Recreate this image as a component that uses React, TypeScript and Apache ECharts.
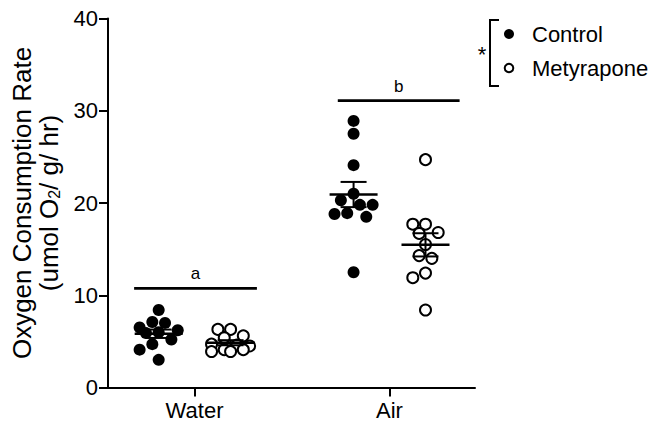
import React, { useEffect, useRef } from "react";
import * as echarts from "echarts";

const groups = ["Water", "Air"];
const seriesNames = ["Control", "Metyrapone"];
const waterControl = [8.4, 7.1, 7.0, 6.2, 6.5, 5.9, 6.0, 5.2, 4.7, 4.1, 3.0];
const waterMetyrapone = [6.3, 6.3, 5.4, 5.6, 4.6, 4.5, 4.7, 4.1, 3.9, 3.9, 4.1];
const airControl = [28.9, 27.5, 24.1, 21.0, 20.3, 19.8, 19.8, 18.9, 18.8, 18.5, 12.5];
const airMetyrapone = [24.7, 17.7, 17.7, 16.7, 16.8, 15.5, 14.3, 14.0, 12.4, 11.9, 8.4];
const yTicks = [0, 10, 20, 30, 40];
const sigLabels = ["a", "b"];
const sigLevels = [10.75, 31.1];
const sigSpans = [
  [-0.31, 0.32],
  [-0.265, 0.36],
];

const FONT = "'Liberation Sans', Arial, Helvetica, sans-serif";
const GROUP_OFFSET = [-0.184, 0.185];
const DOT = 12.7;

function mean(a: number[]) {
  return a.reduce((s, v) => s + v, 0) / a.length;
}
function sem(a: number[]) {
  const m = mean(a);
  const v = a.reduce((s, x) => s + (x - m) * (x - m), 0) / (a.length - 1);
  return Math.sqrt(v / a.length);
}

// simple beeswarm limited to a few columns; overlaps allowed when crowded
function swarm(values: number[], yPx: (v: number) => number, d: number): number[] {
  const order = values.map((_, i) => i).sort((a, b) => values[b] - values[a]);
  const placed: { x: number; y: number }[] = [];
  const out = new Array(values.length).fill(0);
  const h = d / 2;
  const cands = [0];
  for (let k = 1; k <= 3; k++) cands.push(-k * h, k * h);
  for (const i of order) {
    const y = yPx(values[i]);
    let best = 0;
    let bestD = -1;
    let found = false;
    for (const c of cands) {
      const md = placed.length ? Math.min(...placed.map((p) => Math.hypot(p.x - c, p.y - y))) : Infinity;
      if (md >= d * 0.95) {
        best = c;
        found = true;
        break;
      }
      if (md > bestD + 0.01) {
        bestD = md;
        best = c;
      }
    }
    out[i] = best;
    placed.push({ x: best, y });
    void found;
  }
  return out;
}

export default function App() {
  const ref = useRef<HTMLDivElement>(null);
  useEffect(() => {
    document.body.style.margin = "0";
    const chart = echarts.init(ref.current!, null, { renderer: "svg" });
    const dataByGroup = [
      [waterControl, waterMetyrapone],
      [airControl, airMetyrapone],
    ];

    const option: any = {
      animation: false,
      grid: { left: 106, right: 178, top: 18.5, bottom: 39.5 },
      xAxis: {
        type: "value",
        min: -0.444,
        max: 1.439,
        splitLine: { show: false },
        axisLine: { show: true, onZero: false, lineStyle: { color: "#000", width: 2 } },
        axisTick: { show: true, customValues: [0, 1], length: 9, lineStyle: { color: "#000", width: 2 } },
        axisLabel: {
          customValues: [0, 1],
          formatter: (v: number) => groups[Math.round(v)] ?? "",
          fontSize: 22,
          color: "#000",
          fontFamily: FONT,
          margin: 12,
        },
      },
      yAxis: {
        type: "value",
        min: yTicks[0],
        max: yTicks[yTicks.length - 1],
        interval: 10,
        splitLine: { show: false },
        axisLine: { show: true, onZero: false, lineStyle: { color: "#000", width: 2 } },
        axisTick: { show: true, length: 9, lineStyle: { color: "#000", width: 2 } },
        axisLabel: { fontSize: 22, color: "#000", fontFamily: FONT, margin: 10 },
        name: "Oxygen Consumption Rate\n(umol O{sub|2}/ g/ hr)",
        nameLocation: "middle",
        nameRotate: 90,
        nameGap: 46,
        nameTextStyle: {
          fontSize: 26,
          lineHeight: 27,
          color: "#000",
          fontFamily: FONT,
          rich: {
            sub: { fontSize: 16, lineHeight: 16, verticalAlign: "bottom", color: "#000", fontFamily: FONT },
          },
        },
      },
      series: [],
      graphic: [
        {
          type: "polyline",
          shape: { points: [[499, 20], [490, 20], [490, 86], [499, 86]] },
          style: { stroke: "#000", lineWidth: 2, fill: "none" },
        },
        {
          type: "text",
          x: 482,
          y: 54,
          style: { text: "*", fontSize: 22, fontFamily: FONT, fill: "#000", align: "center", verticalAlign: "middle" },
        },
        { type: "circle", shape: { cx: 509, cy: 34, r: 5 }, style: { fill: "#000" } },
        { type: "circle", shape: { cx: 509, cy: 68, r: 4.3 }, style: { fill: "#fff", stroke: "#000", lineWidth: 2 } },
        {
          type: "text",
          x: 532,
          y: 34,
          style: { text: seriesNames[0], fontSize: 22, fontFamily: FONT, fill: "#000", verticalAlign: "middle" },
        },
        {
          type: "text",
          x: 532,
          y: 68,
          style: { text: seriesNames[1], fontSize: 22, fontFamily: FONT, fill: "#000", verticalAlign: "middle" },
        },
      ],
    };
    chart.setOption(option);

    const yPx = (v: number) => chart.convertToPixel({ yAxisIndex: 0 }, v) as number;
    const pxPerX =
      (chart.convertToPixel({ xAxisIndex: 0 }, 1) as number) - (chart.convertToPixel({ xAxisIndex: 0 }, 0) as number);

    const scatterData: number[][][] = [[], []];
    const statData: number[][] = [];
    dataByGroup.forEach((gd, gi) => {
      gd.forEach((vals, si) => {
        const cx = gi + GROUP_OFFSET[si];
        const offs = swarm(vals, yPx, DOT);
        vals.forEach((v, i) => scatterData[si].push([cx + offs[i] / pxPerX, v]));
        const m = mean(vals);
        const s = sem(vals);
        statData.push([cx, m, m - s, m + s]);
      });
    });

    const sigData = sigLabels.map((_, i) => [i + sigSpans[i][0], i + sigSpans[i][1], sigLevels[i]]);

    chart.setOption({
      series: [
        {
          name: seriesNames[0],
          type: "scatter",
          symbol: "circle",
          symbolSize: 12,
          itemStyle: { color: "#000", opacity: 1 },
          data: scatterData[0],
          z: 2,
        },
        {
          name: seriesNames[1],
          type: "scatter",
          symbol: "circle",
          symbolSize: 11,
          itemStyle: { color: "#fff", borderColor: "#000", borderWidth: 2, opacity: 1 },
          data: scatterData[1],
          z: 2,
        },
        {
          type: "custom",
          z: 5,
          data: statData,
          renderItem: (params: any, api: any) => {
            const c = api.coord([api.value(0), api.value(1)]);
            const lo = api.coord([api.value(0), api.value(2)]);
            const hi = api.coord([api.value(0), api.value(3)]);
            const st = { stroke: "#000", lineWidth: 2 };
            return {
              type: "group",
              children: [
                { type: "line", shape: { x1: c[0] - 24, y1: c[1], x2: c[0] + 24, y2: c[1] }, style: { stroke: "#000", lineWidth: 2.5 } },
                { type: "line", shape: { x1: c[0], y1: lo[1], x2: c[0], y2: hi[1] }, style: st },
                { type: "line", shape: { x1: c[0] - 13, y1: lo[1], x2: c[0] + 13, y2: lo[1] }, style: st },
                { type: "line", shape: { x1: c[0] - 13, y1: hi[1], x2: c[0] + 13, y2: hi[1] }, style: st },
              ],
            };
          },
        },
        {
          type: "custom",
          z: 5,
          data: sigData,
          renderItem: (params: any, api: any) => {
            const a = api.coord([api.value(0), api.value(2)]);
            const b = api.coord([api.value(1), api.value(2)]);
            return {
              type: "group",
              children: [
                { type: "line", shape: { x1: a[0], y1: a[1], x2: b[0], y2: b[1] }, style: { stroke: "#000", lineWidth: 2.8 } },
                {
                  type: "text",
                  x: (a[0] + b[0]) / 2,
                  y: a[1] - 6,
                  style: {
                    text: sigLabels[params.dataIndex],
                    fontSize: 17,
                    fontFamily: FONT,
                    fill: "#000",
                    align: "center",
                    verticalAlign: "bottom",
                  },
                },
              ],
            };
          },
        },
      ],
    });

    return () => chart.dispose();
  }, []);
  return <div ref={ref} style={{ width: 653, height: 427 }} />;
}
